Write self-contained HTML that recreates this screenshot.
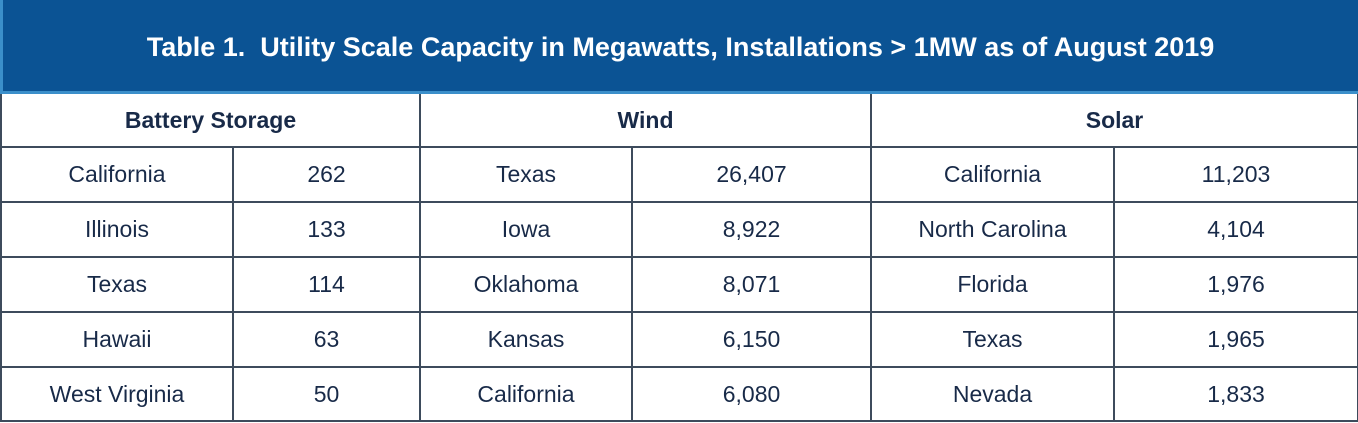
<!DOCTYPE html>
<html><head><meta charset="utf-8"><style>
html,body{margin:0;padding:0;background:#fff;width:1358px;height:423px;overflow:hidden;font-family:"Liberation Sans",sans-serif;}
.hdr{position:absolute;left:0;top:0;width:1358px;height:94px;background:#0b5394;border-bottom:3px solid #3b8fca;border-left:3px solid #3b8fca;box-sizing:border-box;color:#fff;font-weight:bold;font-size:27px;text-align:center;line-height:94px;}
table{position:absolute;left:0;top:94px;border-collapse:collapse;table-layout:fixed;width:1357px;color:#182a48;}
td{border:2px solid #3d4b5c;text-align:center;font-size:23px;padding:0;height:53px;}
td.sec{font-weight:bold;font-size:23px;}
tr.h td{border-top:none;height:52px;}
tr.last td{height:52px;}
</style></head><body>
<div class="hdr">Table 1.&nbsp; Utility Scale Capacity in Megawatts, Installations &gt; 1MW as of August 2019</div>
<table>
<colgroup><col style="width:232px"><col style="width:187px"><col style="width:212px"><col style="width:239px"><col style="width:243px"><col style="width:244px"></colgroup>
<tr class="h">
<td colspan="2" class="sec">Battery Storage</td>
<td colspan="2" class="sec">Wind</td>
<td colspan="2" class="sec">Solar</td></tr>
<tr><td>California</td><td>262</td><td>Texas</td><td>26,407</td><td>California</td><td>11,203</td></tr>
<tr><td>Illinois</td><td>133</td><td>Iowa</td><td>8,922</td><td>North Carolina</td><td>4,104</td></tr>
<tr><td>Texas</td><td>114</td><td>Oklahoma</td><td>8,071</td><td>Florida</td><td>1,976</td></tr>
<tr><td>Hawaii</td><td>63</td><td>Kansas</td><td>6,150</td><td>Texas</td><td>1,965</td></tr>
<tr class="last"><td>West Virginia</td><td>50</td><td>California</td><td>6,080</td><td>Nevada</td><td>1,833</td></tr>
</table>
</body></html>
